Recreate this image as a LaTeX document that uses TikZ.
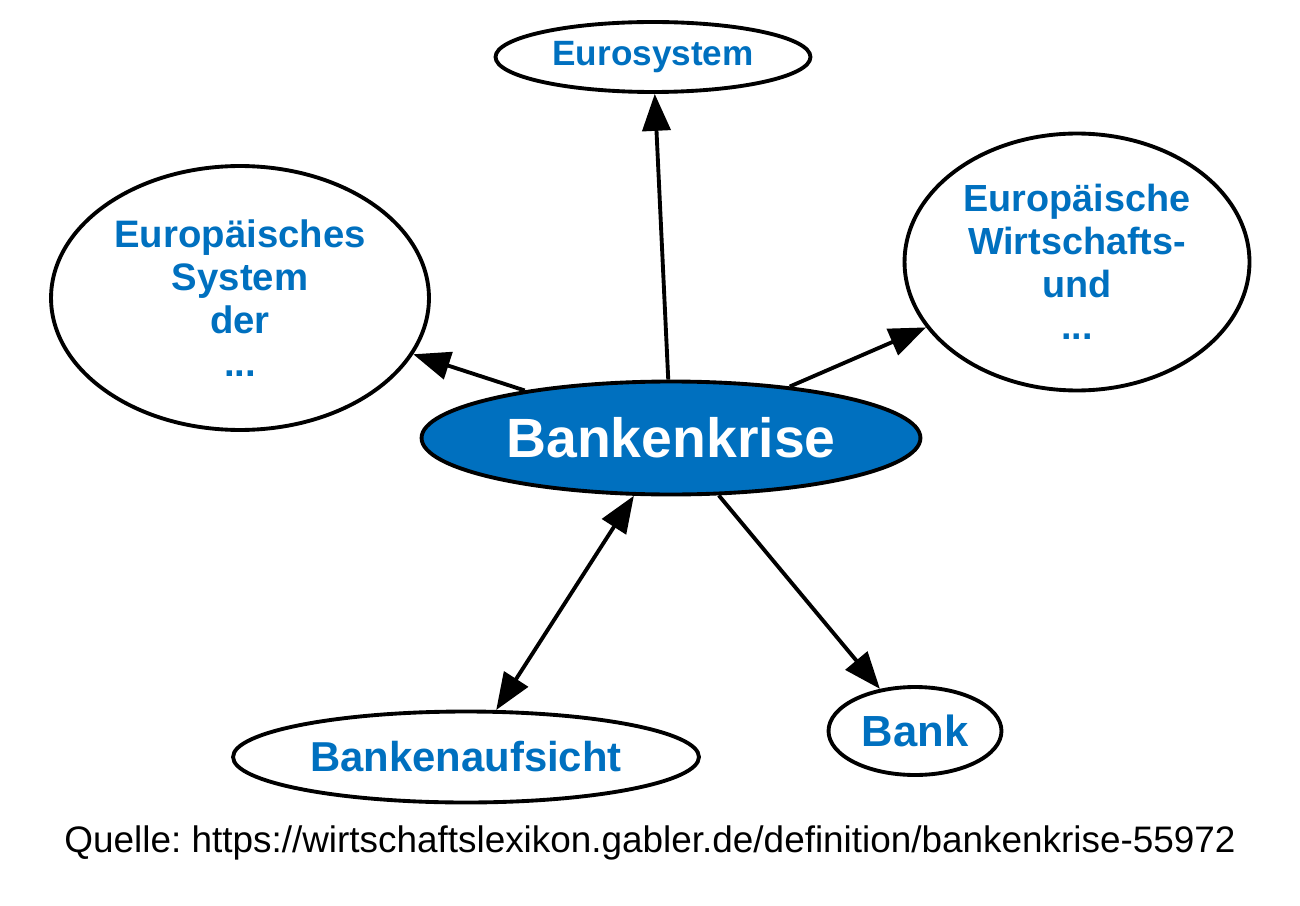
\documentclass[tikz,border=0pt]{standalone}
\usepackage{fontspec}
\setmainfont{Liberation Sans}
\usetikzlibrary{arrows.meta}
\usetikzlibrary{shapes.geometric}
\definecolor{mblue}{rgb}{0.0, 0.44, 0.75}
\tikzset{->/.style = {-{Triangle[length=21pt,width=16pt]}},
         <->/.style = {{Triangle[length=21pt,width=16pt]}-{Triangle[length=21pt,width=16pt]}},
         topic/.style = {ellipse, draw, line width=2.2pt, inner sep=0pt,
                         text=mblue, align=center}}

\begin{document}
\begin{tikzpicture}[x=0.02cm, y=-0.02cm, line width=2.2pt]
      \useasboundingbox (0, 0) rectangle (1300, 905);

      \node [topic, fill=mblue, text=white, minimum width=9.98cm, minimum height=2.26cm,
             font=\fontsize{31.5}{36}\selectfont\bfseries] (krise) at (671, 438) {Bankenkrise};

      \node [topic, minimum width=6.3cm, minimum height=1.4cm,
             font=\fontsize{20}{24}\selectfont\bfseries] (eurosys) at (653, 57) {Eurosystem};
      \node [topic, minimum width=7.56cm, minimum height=5.28cm,
             font=\fontsize{21.8}{24.4}\selectfont\bfseries] (esz) at (240, 298) {Europäisches\\System\\der\\...};
      \node [topic, minimum width=6.9cm, minimum height=5.14cm,
             font=\fontsize{21.5}{24.4}\selectfont\bfseries] (ewu) at (1077, 262) {Europäische\\Wirtschafts-\\und\\...};
      \node [topic, minimum width=9.32cm, minimum height=1.82cm,
             font=\fontsize{23.8}{28}\selectfont\bfseries] (aufsicht) at (466, 757) {Bankenaufsicht};
      \node [topic, minimum width=3.46cm, minimum height=1.76cm,
             font=\fontsize{24.8}{28}\selectfont\bfseries] (bank) at (915, 731) {Bank};

      \draw [->] (krise) -- (eurosys);
      \draw [->] (krise) -- (esz);
      \draw [->] (krise) -- (ewu);
      \draw [->] (krise) -- (bank);
      \draw [<->] (krise) -- (aufsicht);

      \node [font=\fontsize{21}{24}\selectfont] (quelle) at (650, 843) {\frenchspacing Quelle: https://wirtschaftslexikon.gabler.de/definition/bankenkrise-55972};

    \end{tikzpicture}
\end{document}
